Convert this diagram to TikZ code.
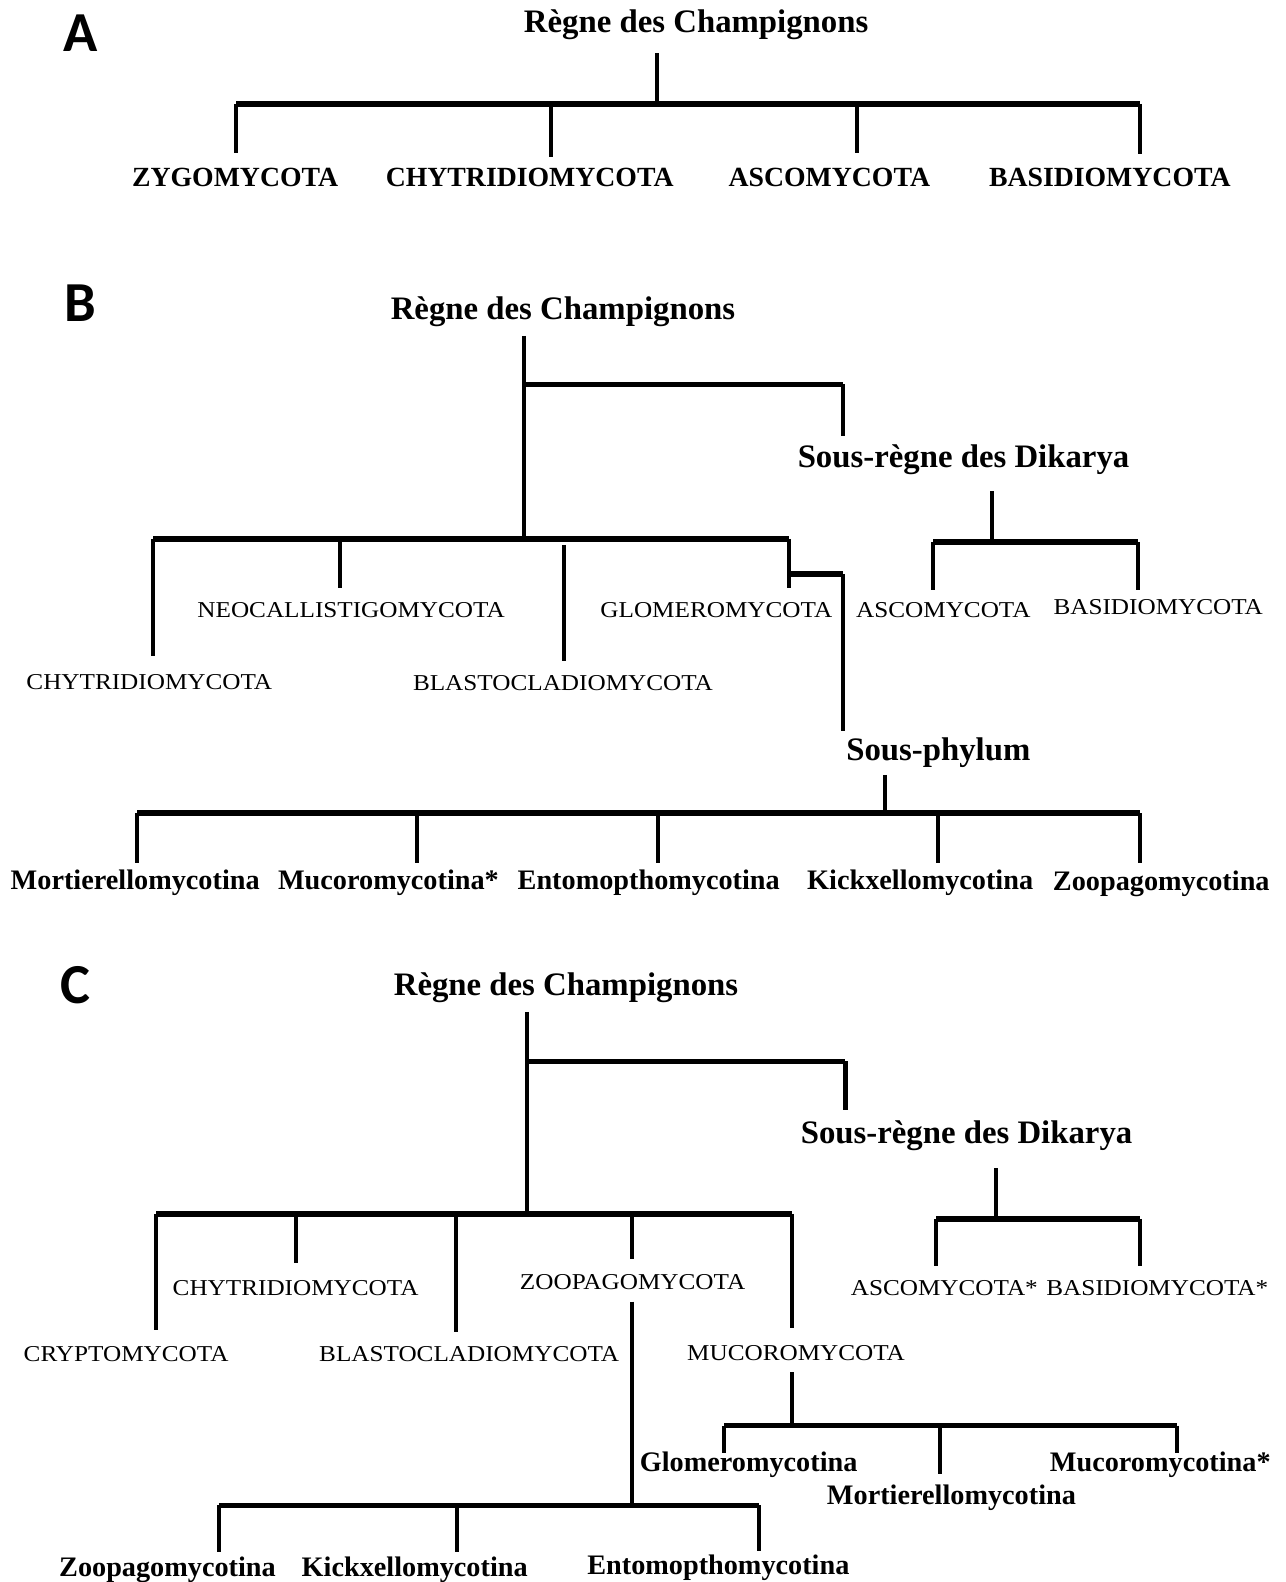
\documentclass[tikz,border=0pt]{standalone}
\usepackage{fontspec}
\setmainfont{Liberation Serif}
\newfontfamily\widefont[FakeStretch=1.11]{Liberation Serif}
\newfontfamily\panelfont{Carlito}
\usetikzlibrary{positioning}

\tikzset{
  head/.style={font=\bfseries\fontsize{32.5}{36}\selectfont, inner sep=0pt, anchor=base},
  taxon/.style={font=\bfseries\fontsize{28}{32}\selectfont, inner sep=0pt, anchor=base},
  phylA/.style={font=\bfseries\fontsize{27.5}{30}\selectfont, inner sep=0pt, anchor=base},
  phyl/.style={font=\widefont\fontsize{22.5}{26}\selectfont, inner sep=0pt, anchor=base},
  panel/.style={font=\panelfont\bfseries\fontsize{56}{56}\selectfont, inner sep=0pt, anchor=base},
  stem/.style={line width=4pt},
  bar/.style={line width=5.5pt},
}

\begin{document}
\begin{tikzpicture}[x=1pt,y=1pt,yscale=-1,xscale=1]
\useasboundingbox (0,0) rectangle (1274,1568);

%%%%%%%%%% Panel A
% Text Node
\node[panel] (labA) at (80,51) {A};
\node[head] (rootA) at (690,32) {Règne des Champignons};
\node[phylA] (zygoA) at (233,185) {ZYGOMYCOTA};
\node[phylA] (chytA) at (525,185) {CHYTRIDIOMYCOTA};
\node[phylA] (ascoA) at (822,185) {ASCOMYCOTA};
\node[phylA] (basiA) at (1100,185) {BASIDIOMYCOTA};
%Straight Lines
\coordinate (topA) at (651,53);
\coordinate (forkA) at (651,103);
\draw[stem] (topA) -- (forkA);
\draw[bar] (234,103) -- (1130,103);
\foreach \x/\e in {234/152, 546/156, 849/152, 1130/153}
  \draw[stem] (\x,103) -- (\x,\e);

%%%%%%%%%% Panel B
% Text Node
\node[panel] (labB) at (80,319) {B};
\node[head] (rootB) at (558,317) {Règne des Champignons};
\node[head] (dikB) at (955,463) {Sous-règne des Dikarya};
\node[phyl] (ascoB) at (935,612) {ASCOMYCOTA};
\node[phyl] (basiB) at (1148,609) {BASIDIOMYCOTA};
\node[phyl] (neoB) at (348,612) {NEOCALLISTIGOMYCOTA};
\node[phyl] (gloB) at (710,612) {GLOMEROMYCOTA};
\node[phyl] (chytB) at (148,683) {CHYTRIDIOMYCOTA};
\node[phyl] (blasB) at (558,684) {BLASTOCLADIOMYCOTA};
\node[head] (subB) at (930,754) {Sous-phylum};
\node[taxon] (mortB) at (134,882) {Mortierellomycotina};
\node[taxon] (mucoB) at (385,882) {Mucoromycotina*};
\node[taxon] (entoB) at (643,882) {Entomopthomycotina};
\node[taxon] (kickB) at (912,882) {Kickxellomycotina};
\node[taxon] (zoopB) at (1151,883) {Zoopagomycotina};
%Straight Lines
\coordinate (topB) at (519,333);
\coordinate (forkB) at (519,534);
\draw[stem] (topB) -- (forkB);
\draw[bar] (519,381) -- (836,381);
\draw[stem] (836,381) -- (836,432);
% Dikarya
\draw[stem] (983,487) -- (983,537);
\draw[bar] (925,537) -- (1128,537);
\draw[stem] (925,537) -- (925,585);
\draw[stem] (1128,537) -- (1128,585);
% phyla
\draw[bar] (152,534) -- (782,534);
\foreach \x/\s/\e in {152/534/650, 337/534/583, 559/540/655, 782/534/583}
  \draw[stem] (\x,\s) -- (\x,\e);
\draw[bar] (782,569) -- (836,569);
\draw[stem] (836,569) -- (836,725);
% sub-phyla
\draw[stem] (877,768) -- (877,806);
\draw[bar] (136,806) -- (1130,806);
\foreach \x in {136, 413, 652, 930, 1130}
  \draw[stem] (\x,806) -- (\x,855);

%%%%%%%%%% Panel C
% Text Node
\node[panel] (labC) at (75,995) {C};
\node[head] (rootC) at (561,987) {Règne des Champignons};
\node[head] (dikC) at (958,1133) {Sous-règne des Dikarya};
\node[phyl] (ascoC) at (936,1284) {ASCOMYCOTA*};
\node[phyl] (basiC) at (1147,1284) {BASIDIOMYCOTA*};
\node[phyl] (chytC) at (293,1284) {CHYTRIDIOMYCOTA};
\node[phyl] (zooC) at (627,1278) {ZOOPAGOMYCOTA};
\node[phyl] (cryC) at (125,1349) {CRYPTOMYCOTA};
\node[phyl] (blasC) at (465,1349) {BLASTOCLADIOMYCOTA};
\node[phyl] (mucC) at (789,1348) {MUCOROMYCOTA};
\node[taxon] (zoopC) at (166,1563) {Zoopagomycotina};
\node[taxon] (kickC) at (411,1563) {Kickxellomycotina};
\node[taxon] (entoC) at (712,1561) {Entomopthomycotina};
\node[taxon] (gloC) at (742,1458) {Glomeromycotina};
\node[taxon] (mucoC) at (1150,1458) {Mucoromycotina*};
\node[taxon] (mortC) at (943,1491) {Mortierellomycotina};
%Straight Lines
\coordinate (topC) at (522,1003);
\coordinate (forkC) at (522,1203);
\draw[stem] (topC) -- (forkC);
\draw[bar] (522,1052) -- (838,1052);
\draw[stem] (838,1052) -- (838,1100);
% Dikarya
\draw[stem] (987,1158) -- (987,1208);
\draw[bar] (928,1208) -- (1130,1208);
\draw[stem] (928,1208) -- (928,1255);
\draw[stem] (1130,1208) -- (1130,1255);
% phyla
\draw[bar] (155,1203) -- (785,1203);
\foreach \x/\e in {155/1318, 293/1252, 452/1320, 626/1248, 785/1316}
  \draw[stem] (\x,1203) -- (\x,\e);
% Zoopagomycota
\draw[stem] (626,1290) -- (626,1490);
\draw[bar] (217,1492) -- (752,1492);
\foreach \x/\e in {217/1538, 453/1538, 752/1537}
  \draw[stem] (\x,1492) -- (\x,\e);
% Mucoromycota
\draw[stem] (785,1360) -- (785,1413);
\draw[bar] (718,1413) -- (1167,1413);
\foreach \x/\e in {718/1440, 932/1461, 1167/1440}
  \draw[stem] (\x,1413) -- (\x,\e);
\end{tikzpicture}
\end{document}
